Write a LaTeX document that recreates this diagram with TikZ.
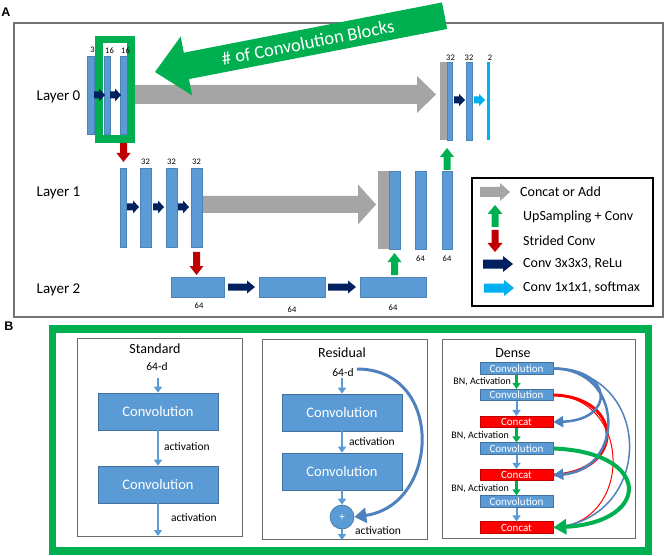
\documentclass[tikz,border=0pt]{standalone}
\usepackage{fontspec}
\setmainfont{Carlito}
\newfontfamily\lblfont{Liberation Sans}
\usetikzlibrary{fit,arrows.meta}
\definecolor{cblue}{RGB}{91,155,213}
\definecolor{cblueD}{RGB}{65,113,156}
\definecolor{cgray}{RGB}{165,165,165}
\definecolor{cgreen}{RGB}{0,176,80}
\definecolor{cred}{RGB}{192,0,0}
\definecolor{cconcat}{RGB}{255,0,0}
\definecolor{cnavy}{RGB}{0,32,96}
\definecolor{ccyan}{RGB}{0,176,240}
\definecolor{ccurve}{RGB}{79,129,189}
\newcommand{\blkR}[7]{\fill[#7] (#1,#3-#4/2) -- (#2-#6,#3-#4/2) -- (#2-#6,#3-#5/2) -- (#2,#3) -- (#2-#6,#3+#5/2) -- (#2-#6,#3+#4/2) -- (#1,#3+#4/2) -- cycle;}
\newcommand{\blkU}[7]{\fill[#7] (#1-#4/2,#2) -- (#1-#4/2,#3+#6) -- (#1-#5/2,#3+#6) -- (#1,#3) -- (#1+#5/2,#3+#6) -- (#1+#4/2,#3+#6) -- (#1+#4/2,#2) -- cycle;}
\newcommand{\blkD}[7]{\fill[#7] (#1-#4/2,#2) -- (#1-#4/2,#3-#6) -- (#1-#5/2,#3-#6) -- (#1,#3) -- (#1+#5/2,#3-#6) -- (#1+#4/2,#3-#6) -- (#1+#4/2,#2) -- cycle;}
\tikzset{
  bar/.style={fill=cblue, draw=cblue!85!black, line width=0.3pt, inner sep=0pt},
  gbar/.style={fill=cgray, inner sep=0pt},
  cbar/.style={fill=ccyan, inner sep=0pt},
  num/.style={font=\fontsize{8.5}{9}\selectfont, inner sep=0pt},
  layer/.style={font=\fontsize{15}{17}\selectfont, inner sep=0pt},
  leg/.style={font=\fontsize{14}{16}\selectfont, anchor=west, inner sep=0pt},
  lbl/.style={font=\lblfont\bfseries\fontsize{12.5}{13}\selectfont, inner sep=0pt},
  conv/.style={fill=cblue, draw=cblueD, line width=0.6pt, text=white, font=\fontsize{14.5}{16}\selectfont, inner sep=0pt, minimum width=120pt, minimum height=37pt},
  dconv/.style={fill=cblue, draw=cblueD, line width=0.6pt, text=white, font=\fontsize{11}{12}\selectfont, inner sep=0pt, minimum width=73pt, minimum height=11.5pt},
  dcat/.style={dconv, fill=cconcat, draw=cred},
  ttl/.style={font=\fontsize{14}{16}\selectfont, inner sep=0pt},
  act/.style={font=\fontsize{11.5}{13}\selectfont, anchor=west, inner sep=0pt},
  bn/.style={font=\fontsize{10}{11}\selectfont, anchor=east, inner sep=0pt},
  panel/.style={draw=gray!85!black, line width=0.8pt},
  flow/.style={draw=cblue, line width=2pt, -{Triangle[length=6pt,width=8pt]}},
  gflow/.style={draw=cgreen, line width=2.5pt, -{Triangle[length=6pt,width=8pt]}},
}
\begin{document}
\begin{tikzpicture}[x=1pt,y=-1pt]
\useasboundingbox (0,0) rectangle (664,556);
% ---------------- Panel A ----------------
\node[lbl] (labA) at (6,12.5) {A};
\draw[draw=gray!90!black, line width=1.2pt] (14,23) rectangle (663,317);

% concat arrows
\blkR{135}{436}{94.5}{19}{37}{19}{cgray}
\blkR{203}{376}{204.5}{17}{40}{18}{cgray}

% layer labels
\node[layer] (lay0) at (58.5,97) {Layer 0};
\node[layer] (lay1) at (58.5,193) {Layer 1};
\node[layer] (lay2) at (58.5,290) {Layer 2};

% layer 0 left
\node[bar, fit={(87,56)(94,134)}] (l0a) {};
\node[num] (n0a) at (92.5,50) {3};
\node[bar, fit={(104,56)(110,134)}] (l0b) {};
\node[bar, fit={(120,56)(127,134)}] (l0c) {};
\blkD{123.5}{143}{162}{7}{14}{9}{cred}
\draw[cgreen, line width=7.5pt] (99,39.5) rectangle (131,139);
\node[num] (n0b) at (109.5,50.5) {16};
\node[num] (n0c) at (125.5,50.5) {16};
\blkR{94}{105}{95}{7}{13}{6}{cnavy}
\blkR{110}{121}{95}{7}{13}{6}{cnavy}

% layer 0 right
\node[gbar, fit={(440,62)(447,140)}] (r0g) {};
\node[bar, fit={(447,62)(452,140)}] (r0a) {};
\node[bar, fit={(466,62)(472,140)}] (r0b) {};
\node[cbar, fit={(487,62)(490,140)}] (r0c) {};
\node[num] (m0a) at (450.5,57.5) {32};
\node[num] (m0b) at (469,57.5) {32};
\node[num] (m0c) at (490,57.5) {2};
\blkR{454}{465}{100}{7}{12}{6}{cnavy}
\blkR{474}{485}{100}{7}{12}{6}{ccyan}

% layer 1 left
\node[bar, fit={(120,168)(126,247)}] (l1a) {};
\node[bar, fit={(140,168)(151,247)}] (l1b) {};
\node[bar, fit={(166,168)(177,247)}] (l1c) {};
\node[bar, fit={(191,168)(202,247)}] (l1d) {};
\node[num] (n1b) at (145.5,162) {32};
\node[num] (n1c) at (171.5,162) {32};
\node[num] (n1d) at (196.5,162) {32};
\blkR{127}{139}{207}{7}{13}{6}{cnavy}
\blkR{153}{164}{207}{7}{13}{6}{cnavy}
\blkR{178}{189}{207}{7}{13}{6}{cnavy}

% layer 1 right
\node[gbar, fit={(378,171)(389,249)}] (r1g) {};
\node[bar, fit={(389,171)(400,249)}] (r1a) {};
\node[bar, fit={(415,171)(426,249)}] (r1b) {};
\node[bar, fit={(442,171)(452,249)}] (r1c) {};
\node[num] (m1b) at (420.5,259) {64};
\node[num] (m1c) at (447,259) {64};
\blkU{447}{170}{148}{7}{14}{9}{cgreen}
\blkD{196.5}{252}{275}{7}{14}{9}{cred}
\blkU{394.5}{275}{253}{7}{14}{9}{cgreen}

% layer 2
\node[bar, fit={(171,277)(224,297)}] (l2a) {};
\node[bar, fit={(259,277)(325,297)}] (l2b) {};
\node[bar, fit={(360,277)(426,297)}] (l2c) {};
\node[num] (n2a) at (199,306) {64};
\node[num] (n2b) at (292,310) {64};
\node[num] (n2c) at (393,308) {64};
\blkR{228}{255}{287}{7}{13}{8}{cnavy}
\blkR{328}{356}{287}{7}{13}{8}{cnavy}

% big green arrow
\fill[cgreen] (155,72) -- (192.1,95.4) -- (189.0,79.1) -- (447.2,28.95) -- (442.0,2.45) -- (183.8,52.7) -- (180.7,36.5) -- cycle;
\node[font=\fontsize{18.5}{20}\selectfont, text=white, rotate=11, inner sep=0pt] (blocks) at (308,42.5) {\# of Convolution Blocks};

% legend
\draw[black, line width=1.2pt] (472,178) rectangle (653,306);
\blkR{480}{510}{192}{10}{18}{10}{cgray}
\blkU{495}{227}{205}{7}{15}{9}{cgreen}
\blkD{495}{230}{252}{7}{15}{9}{cred}
\blkR{483}{513}{264}{9}{16}{10}{cnavy}
\blkR{484}{514}{288}{9}{16}{10}{ccyan}
\node[leg] (leg1) at (520,192) {Concat or Add};
\node[leg] (leg2) at (523,217) {UpSampling + Conv};
\node[leg] (leg3) at (523,241) {Strided Conv};
\node[leg] (leg4) at (523,264) {Conv 3x3x3, ReLu};
\node[leg] (leg5) at (523,288) {Conv 1x1x1, softmax};

% ---------------- Panel B ----------------
\node[lbl] (labB) at (9,326) {B};
\draw[cgreen, line width=7.5pt] (52.5,329) rectangle (648.5,551);
\draw[panel] (77,338) rectangle (242,536);
\draw[panel] (262,339) rectangle (427,539);
\draw[panel] (442,339) rectangle (635,538);

% Standard
\node[ttl] (stt) at (155,349) {Standard};
\node[act, anchor=center] (s64) at (157,367) {64-d};
\node[conv] (sc1) at (158,411.5) {Convolution};
\node[conv] (sc2) at (158,484.5) {Convolution};
\coordinate (sin) at (158,378);
\coordinate (sout) at (158,536);
\draw[flow] (sin) -- (sc1);
\draw[flow] (sc1) -- (sc2) node[act, pos=0.45, xshift=5pt] (sa1) {activation};
\draw[flow] (sc2) -- (sout) node[act, pos=0.45, xshift=12pt] (sa2) {activation};

% Residual
\node[ttl] (rtt) at (342,353) {Residual};
\node[act, anchor=center] (r64) at (343,373) {64-d};
\node[conv] (rc1) at (342,412.5) {Convolution};
\node[conv] (rc2) at (342,471.5) {Convolution};
\node[circle, fill=cblue, draw=cblueD, line width=0.6pt, minimum size=24pt, inner sep=0pt, text=white, font=\fontsize{11}{12}\selectfont] (rplus) at (342,517) {+};
\coordinate (rin) at (342,378);
\coordinate (rout) at (342,540);
\coordinate (rskip) at (357,369);
\draw[flow] (rin) -- (rc1);
\draw[flow] (rc1) -- (rc2) node[act, pos=0.5, xshift=6pt] (ra1) {activation};
\draw[flow] (rc2) -- (rplus);
\draw[flow] (rplus) -- (rout);
\node[act] (ra2) at (355,531) {activation};
\draw[ccurve, line width=3pt, -{Triangle[length=12pt,width=15pt]}] (rskip) .. controls (445,369) and (440,505) .. (rplus.east);

% Dense
\node[ttl] (dtt) at (513,353) {Dense};
\node[dconv] (dc1) at (516.5,368.5) {Convolution};
\node[dconv] (dc2) at (516.5,395) {Convolution};
\node[dcat]  (dk1) at (516.5,422) {Concat};
\node[dconv] (dc3) at (516.5,448.5) {Convolution};
\node[dcat]  (dk2) at (516.5,475) {Concat};
\node[dconv] (dc4) at (516.5,501.5) {Convolution};
\node[dcat]  (dk3) at (516.5,527.5) {Concat};
\draw[gflow] (dc1) -- (dc2);
\draw[flow] (dc2) -- (dk1);
\draw[gflow] (dk1) -- (dc3);
\draw[flow] (dc3) -- (dk2);
\draw[gflow] (dk2) -- (dc4);
\draw[flow] (dc4) -- (dk3);
\node[bn] (bn1) at (511,382) {BN, Activation};
\node[bn] (bn2) at (509,436) {BN, Activation};
\node[bn] (bn3) at (509,489) {BN, Activation};

% dense skip curves
\draw[cconcat, line width=3pt] (dc2.east) .. controls (625,397) and (625,472) .. (dk2.east);
\draw[cconcat, line width=1pt] (dc2.east) .. controls (633,398) and (633,525) .. (dk3.east);
\draw[ccurve, line width=1.5pt] (dc1.east) .. controls (655,372) and (655,520) .. (dk3.east);
\draw[ccurve, line width=2.5pt, -{Triangle[length=10pt,width=11pt]}] (dc1.east) .. controls (615,369) and (615,420) .. (dk1.east);
\draw[ccurve, line width=2.5pt, -{Triangle[length=10pt,width=11pt]}] (dc1.east) .. controls (625,369) and (625,470) .. (dk2.east);
\draw[cgreen, line width=4pt, -{Triangle[length=13pt,width=15pt]}] (dc3.east) .. controls (652,452) and (652,522) .. (dk3.east);
\end{tikzpicture}
\end{document}
